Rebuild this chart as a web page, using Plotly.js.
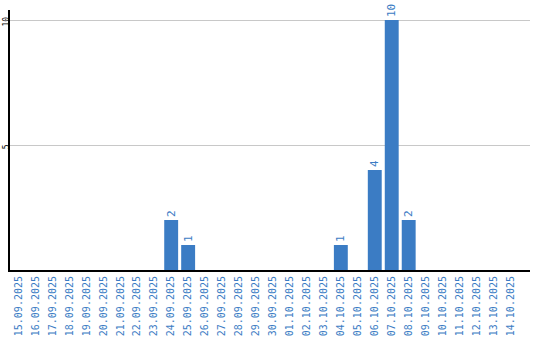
<!DOCTYPE html>
<html><head><meta charset="utf-8">
<script src="https://cdn.plot.ly/plotly-3.0.1.min.js"></script>
<style>html,body{margin:0;padding:0;background:#fff}#chart{width:540px;height:340px}</style>
</head><body><div id="chart"></div>
<script>
const dates = ["15.09.2025","16.09.2025","17.09.2025","18.09.2025","19.09.2025","20.09.2025","21.09.2025","22.09.2025","23.09.2025","24.09.2025","25.09.2025","26.09.2025","27.09.2025","28.09.2025","29.09.2025","30.09.2025","01.10.2025","02.10.2025","03.10.2025","04.10.2025","05.10.2025","06.10.2025","07.10.2025","08.10.2025","09.10.2025","10.10.2025","11.10.2025","12.10.2025","13.10.2025","14.10.2025"];
const counts = [0,0,0,0,0,0,0,0,0,2,1,0,0,0,0,0,0,0,0,1,0,4,10,2,0,0,0,0,0,0];
const yTicks = [5,10];

const blue = '#3b7cc4';
const mono = 'DejaVu Sans Mono, monospace';
Plotly.newPlot('chart', [{
  type: 'bar',
  x: dates.map((d,i)=>i),
  y: counts,
  text: counts.map(v => v ? String(v) : ''),
  textposition: 'outside',
  textangle: -90,
  textfont: {family: mono, size: 11, color: blue},
  cliponaxis: false,
  marker: {color: blue},
  hoverinfo: 'none'
}], {
  width: 540, height: 340,
  margin: {l: 10, r: 10, t: 10, b: 70, pad: 0},
  paper_bgcolor: '#fff', plot_bgcolor: '#fff',
  bargap: 0.18,
  showlegend: false,
  xaxis: {
    type: 'linear', range: [-0.5, 30.15],
    tickmode: 'array', tickvals: dates.map((d,i)=>i), ticktext: dates,
    tickangle: -90, tickfont: {family: mono, size: 10, color: blue},
    showgrid: false, zeroline: false, showline: true, linecolor: '#000', linewidth: 2,
    ticks: '', ticklen: 0
  },
  yaxis: {
    range: [0, 10.4], tickmode: 'array', tickvals: yTicks, ticktext: yTicks.map(String),
    tickangle: -90, tickfont: {family: mono, size: 8, color: '#000'},
    ticklabelstandoff: -4, ticklabelshift: 3,
    showgrid: true, gridcolor: '#c8c8c8', gridwidth: 1, zeroline: false,
    showline: true, linecolor: '#000', linewidth: 2, ticks: '', ticklen: 0
  }
}, {staticPlot: true});
</script></body></html>
